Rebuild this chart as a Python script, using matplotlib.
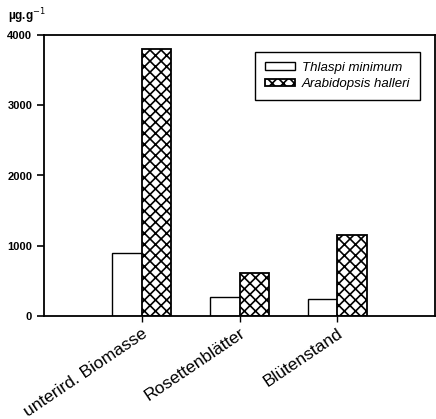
import numpy as np
import matplotlib.pyplot as plt

# Values (µg/g)
categories = ['unterird. Biomasse', 'Rosettenblätter', 'Blütenstand']
thlaspi = [900, 270, 240]
arabidopsis = [3800, 610, 1150]
yticks = [0, 1000, 2000, 3000, 4000]

plt.rcParams['font.family'] = ['Liberation Sans', 'DejaVu Sans']
plt.rcParams['hatch.linewidth'] = 1.2

fig = plt.figure(figsize=(4.36, 4.19), dpi=100)
ax = fig.add_axes([44 / 436, 1 - 316 / 419, 391 / 436, 281 / 419])

x = np.arange(len(categories))
w = 0.3
ax.bar(x - w / 2, thlaspi, w, color='white', edgecolor='black', linewidth=1.0,
       label='Thlaspi minimum')
ax.bar(x + w / 2, arabidopsis, w, color='white', edgecolor='black', linewidth=1.3,
       hatch='xxx', label='Arabidopsis halleri')

ax.set_xlim(-1, 3)
ax.set_ylim(0, 4000)
ax.set_yticks(yticks)
ax.set_yticklabels([str(v) for v in yticks], fontsize=8, fontweight='bold')
ax.set_xticks(x)
ax.set_xticklabels(categories, rotation=34, ha='right', rotation_mode='anchor',
                   fontsize=12.5)
ax.tick_params(axis='y', direction='out', length=5, width=1.2)
ax.tick_params(axis='x', direction='out', length=4, width=1.0, pad=3)
for s in ax.spines.values():
    s.set_linewidth(1.3)

fig.text(8 / 436, 1 - 16 / 419, 'µg.g$^{-1}$', fontsize=8.5, fontweight='bold',
         va='center')

leg = ax.legend(loc='upper right', bbox_to_anchor=(0.962, 0.94), borderaxespad=0,
                fancybox=False, edgecolor='black', framealpha=1,
                prop={'style': 'italic', 'size': 9.5},
                handlelength=2.3, handleheight=0.5, borderpad=0.75, labelspacing=0.35,
                handletextpad=0.5)
leg.get_frame().set_linewidth(1.0)

fig.savefig('out.png', dpi=100)
